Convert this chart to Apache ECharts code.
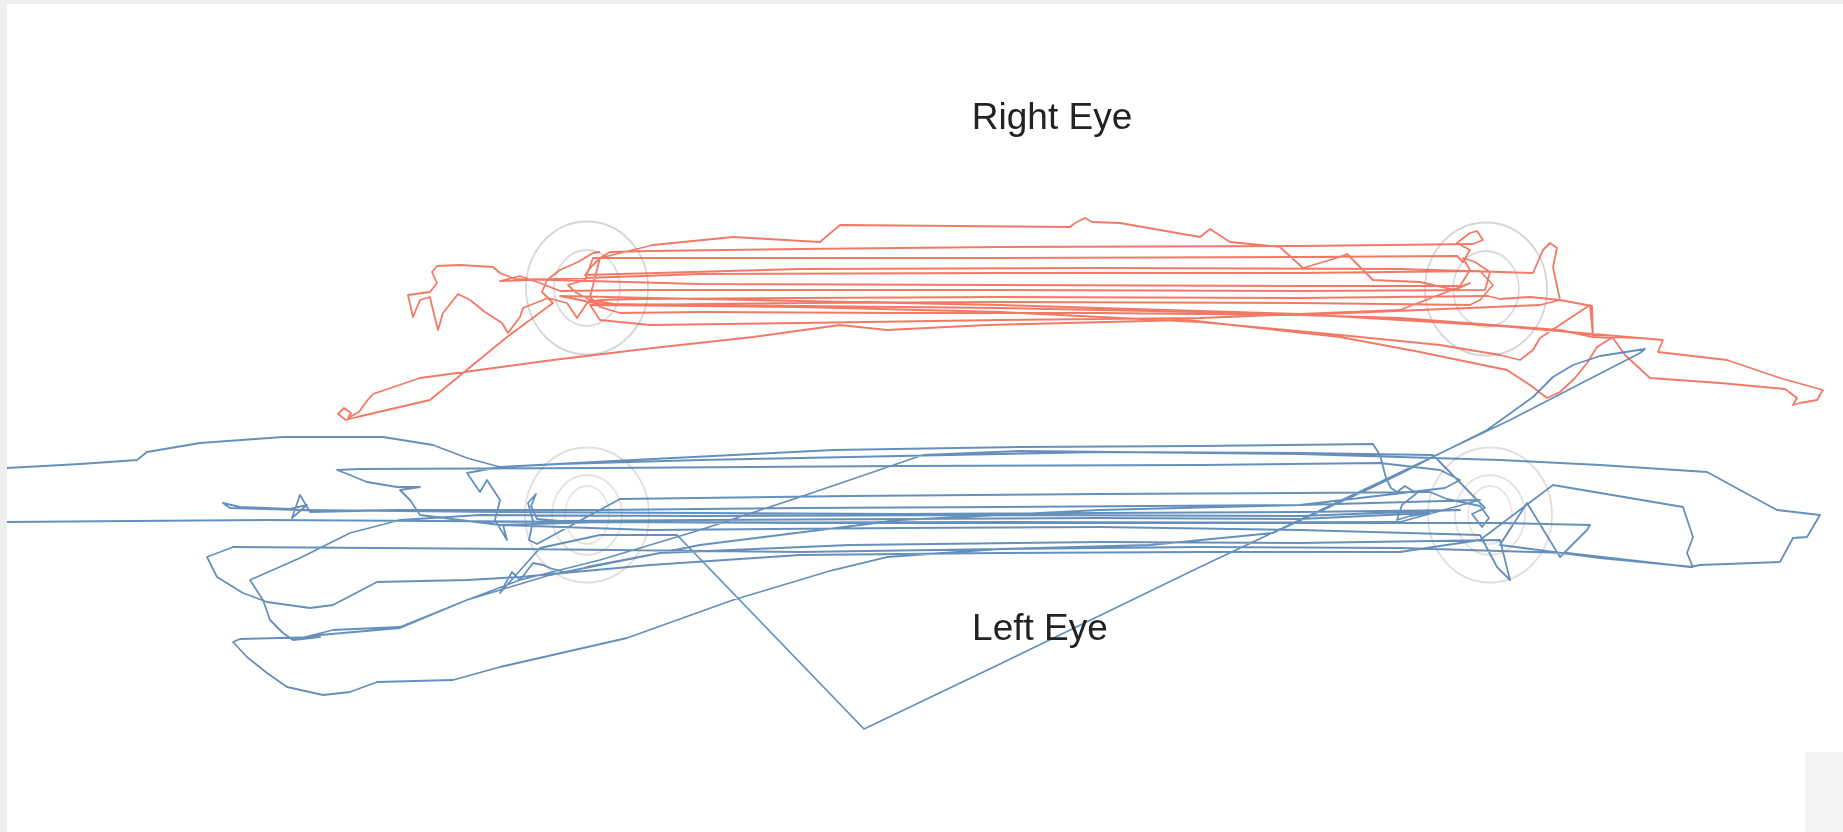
<!DOCTYPE html>
<html>
<head>
<meta charset="utf-8">
<title>Right Eye / Left Eye gaze traces</title>
<script src="https://cdn.jsdelivr.net/npm/echarts@6/dist/echarts.min.js"></script>
<style>
  html, body { margin: 0; padding: 0; background: #ffffff; }
  #chart { width: 1843px; height: 832px; }
</style>
</head>
<body>
<div id="chart"></div>
<script>
// Gaze samples in screen pixels [x, y] (y grows downward).

// Right eye trace
const rightEyeTrace = [
  [600,252],[593,253],[578,262],[560,270],[547,280],[542,292],[553,303],
  [507,337],[430,400],[357,417],[346,420],[338,414],[344,408],[351,413],[348,418],[359,412],[366,402],[373,394],[420,378],
  [553,360],[653,348],[753,337],[840,325],[887,330],[987,325],[1187,320],[1340,337],[1420,352],[1507,370],[1530,385],[1547,398],[1560,392],[1575,378],[1587,363],[1597,347],[1613,337],[1640,338],[1663,340],
  [1658,352],[1727,360],[1780,378],[1823,390],[1817,400],[1800,403],[1793,405],[1797,398],[1785,389],[1720,383],[1650,378],[1625,355],[1613,338],[1593,337],[1592,306],[1560,300],[1530,297],[1500,299],[1488,296],
  [1300,298],[1000,297],[800,298],[640,299],[600,300],[587,303],[577,318],[567,303],[548,298],
  [523,308],[520,317],[508,333],[502,323],[485,312],[470,300],[458,294],[443,313],[438,330],[433,310],[430,297],[420,300],[413,317],[408,295],[430,292],[437,283],[432,272],[437,266],[460,265],[493,267],[500,273],[515,279],
  [700,284],[1000,285],[1300,286],[1460,286],[1470,270],[1463,258],[1475,262],[1490,272],[1485,290],
  [1300,291],[1000,290],[800,290],[640,290],[560,291],[540,283],[520,276],[500,281],
  [700,274],[1000,273],[1300,273],[1480,271],[1493,285],[1480,300],
  [1470,305],[1300,303],[1000,302],[800,303],[620,305],[590,300],[575,292],[568,285],[585,280],
  [593,258],[800,258],[1000,258],[1300,257],[1457,256],[1463,262],[1470,250],[1457,243],[1470,233],[1477,231],[1483,240],[1473,244],
  [1300,246],[1000,247],[800,249],[650,251],[610,252],[600,258],[592,266],[585,275],
  [800,269],[1100,268],[1400,269],[1533,273],[1543,250],[1550,243],[1557,248],[1553,267],[1560,300],[1540,305],
  [1300,315],[1100,313],[900,313],[700,312],[620,313],[600,307],[590,297],
  [600,258],[653,245],[733,237],[820,242],[840,225],[1070,227],[1075,223],[1085,218],[1092,222],[1120,223],[1200,237],[1210,229],[1230,242],[1280,247],[1303,268],[1340,257],[1347,254],[1373,280],[1420,282],[1455,290],[1470,283],
  [1400,310],[1200,318],[1000,320],[800,323],[650,325],[600,320],[590,305],
  [800,307],[1000,312],[1200,322],[1340,335],[1440,345],[1500,355],[1520,360],[1533,350],[1540,338],[1590,305],[1593,337],
  [1560,330],[1400,318],[1200,312],[1000,308],[800,306],[600,304],[560,296],
  [700,299],[1000,305],[1300,314],[1500,326],[1663,340]
];

// Left eye trace
const leftEyeTrace = [
  [7,468],[80,464],[137,460],[147,452],[200,443],[283,437],[383,437],[433,445],[467,458],[500,467],[633,460],[833,450],[1020,447],[1200,446],[1373,444],[1380,455],[1386,478],[1391,488],
  [1397,492],[1405,486],[1411,490],[1417,493],[1402,505],[1397,520],[1410,516],[1430,513],
  [1300,519],[1100,518],[900,519],[700,520],[560,521],[537,519],[531,506],[536,494],[528,503],[533,521],[529,540],[537,544],
  [620,499],[850,496],[1100,494],[1300,493],[1430,492],[1447,499],[1480,506],[1489,518],[1482,527],[1472,514],[1485,508],
  [1433,455],[1300,453],[1100,452],[900,456],[700,460],[560,464],[500,467],[467,473],[480,492],[487,480],[500,500],[495,520],[507,540],[503,525],
  [650,530],[900,528],[1100,527],[1300,530],[1480,535],[1497,567],[1510,580],[1505,560],[1500,540],
  [1300,543],[1100,542],[850,545],[660,553],[587,567],[567,573],[550,568],[543,565],[533,563],[520,580],[512,572],[500,593],
  [540,548],[600,535],[677,535],[864,729],[1000,664],[1200,567],[1380,482],[1510,420],[1640,353],[1645,349],
  [1600,356],[1573,365],[1553,377],[1533,397],[1487,430],[1433,457],[1400,474],[1373,487],[1273,533],[1150,545],
  [1000,549],[887,557],[833,570],[733,600],[627,638],[500,667],[453,680],[377,682],[350,692],[323,695],[287,687],[267,673],[247,657],[233,642],[240,639],[320,637],[293,640],[333,630],[400,627],[467,600],[520,580],[600,560],[700,530],[800,497],[923,455],[1020,451],[1300,454],[1500,460],[1600,465],[1707,472],[1740,490],[1777,510],[1820,515],[1807,537],[1793,538],[1780,562],[1700,565],[1690,567],[1567,553],[1400,548],[1200,547],[1000,549],[800,552],[520,549],[233,547],[207,557],[217,577],[243,593],[267,602],[310,608],[333,605],[377,582],[467,580],[520,577],[650,565],[800,555],[1000,553],[1200,552],[1400,552],[1480,540],
  [1553,485],[1683,507],[1693,537],[1687,553],[1693,567],[1600,558],[1500,545],[1527,503],[1560,557],[1587,530],[1590,525],[1500,523],[1400,523],[1200,523],[1000,522],[800,523],[600,522],[500,525],
  [420,515],[410,500],[400,490],[420,487],[397,487],[367,482],[350,475],[337,470],[360,469],[600,468],[900,466],[1200,465],[1380,463],[1440,470],[1460,480],[1445,488],
  [1300,505],[1000,507],[800,508],[600,510],[400,510],[310,512],[300,495],[292,518],[307,505],[290,509],[240,507],[223,503],[230,508],[300,510],[500,512],[700,513],[900,514],[1100,513],[1300,512],[1460,510],
  [1300,516],[1000,515],[700,516],[480,515],[400,520],[350,533],[300,558],[250,580],[263,600],[270,620],[283,633],[293,640],[320,635],[400,628],[467,600],[550,575],[700,545],[900,520],[1100,510],[1300,505],[1480,500],
  [1400,522],[1000,523],[600,522],[267,520],[130,521],[7,522]
];

// Target positions for each eye (screen px)
const rightEyeTargets = [[587,288],[1486,289]];
const leftEyeTargets = [[587,515],[1490,515]];

// Panel labels
const labels = ['Right Eye', 'Left Eye'];

const chart = echarts.init(document.getElementById('chart'), null, { renderer: 'canvas' });

function ring(name, data, size, color) {
  return {
    name: name,
    type: 'scatter',
    data: data,
    symbol: 'circle',
    symbolSize: size,
    silent: true,
    z: 1,
    itemStyle: { color: 'rgba(0,0,0,0)', borderColor: color, borderWidth: 1.8 }
  };
}

function trace(name, data, color) {
  return {
    name: name,
    type: 'line',
    data: data,
    showSymbol: false,
    symbol: 'none',
    smooth: false,
    silent: true,
    z: 2,
    lineStyle: { color: color, width: 1.8, opacity: 0.85, join: 'round' }
  };
}

chart.setOption({
  backgroundColor: '#ffffff',
  animation: false,
  grid: { left: 0, right: 0, top: 0, bottom: 0 },
  xAxis: { type: 'value', min: 0, max: 1843, show: false },
  yAxis: { type: 'value', min: 0, max: 832, inverse: true, show: false },
  graphic: [
    { type: 'rect', left: 0, top: 0, shape: { width: 1843, height: 4 }, style: { fill: '#efefef' }, z: 0 },
    { type: 'rect', left: 0, top: 0, shape: { width: 7, height: 832 }, style: { fill: '#efefef' }, z: 0 },
    { type: 'rect', right: 0, bottom: 0, shape: { width: 38, height: 80 }, style: { fill: '#f3f3f3' }, z: 0 },
    { type: 'text', x: 1052, y: 119, z: 100,
      style: { text: labels[0], fill: '#222222', font: '37px "Liberation Sans", Arial, sans-serif', align: 'center', verticalAlign: 'middle' } },
    { type: 'text', x: 1040, y: 630, z: 100,
      style: { text: labels[1], fill: '#222222', font: '37px "Liberation Sans", Arial, sans-serif', align: 'center', verticalAlign: 'middle' } }
  ],
  series: [
    ring('Right eye target', rightEyeTargets, [122, 133], 'rgba(190,195,200,0.85)'),
    ring('Right eye target inner', rightEyeTargets, [66, 76], 'rgba(190,195,200,0.75)'),
    ring('Left eye target', leftEyeTargets, [124, 135], 'rgba(215,205,200,0.85)'),
    ring('Left eye target inner', leftEyeTargets, [70, 80], 'rgba(215,205,200,0.75)'),
    ring('Left eye target core', leftEyeTargets, [44, 58], 'rgba(215,205,200,0.7)'),
    trace('Right Eye', rightEyeTrace, '#F0614B'),
    trace('Left Eye', leftEyeTrace, '#4A7DB0')
  ]
});
</script>
</body>
</html>
